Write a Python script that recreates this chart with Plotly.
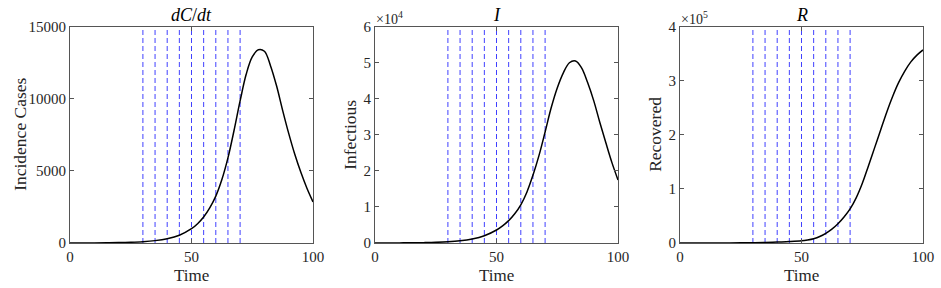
import plotly.graph_objects as go

# ---- data ----
time = [0, 5, 10, 15, 20, 25, 30, 35, 40, 45, 50, 52.5, 55, 57.5, 60, 62.5, 65, 67.5,
        70, 72.5, 75, 77.5, 80, 82.5, 85, 87.5, 90, 92.5, 95, 97.5, 100]
incidence = [2, 4, 8, 15, 27, 50, 90, 165, 300, 540, 990, 1340, 1800, 2430, 3250, 4400,
             5900, 7800, 9850, 11700, 12900, 13400, 13300, 12300, 10900, 9200, 7600,
             6150, 4900, 3800, 2850]
infectious = [8, 15, 30, 55, 100, 180, 330, 600, 1100, 2000, 3600, 4750, 6200, 8100,
              10600, 14100, 18800, 24300, 30800, 37500, 43000, 47200, 50000, 50500,
              48600, 44500, 39500, 33500, 27800, 22300, 17500]
recovered = [20, 40, 70, 120, 200, 340, 600, 1000, 1800, 2600, 4000, 5600, 8000, 12000,
             18000, 25500, 35500, 48000, 63000, 83500, 110000, 142000, 175000, 208000,
             241000, 271000, 297000, 318000, 335000, 347500, 357000]
change_times = [30, 35, 40, 45, 50, 55, 60, 65, 70]

titles = ["<i>dC</i>/<i>dt</i>", "<i>I</i>", "<i>R</i>"]
ylabels = ["Incidence Cases", "Infectious", "Recovered"]
xlabel = "Time"
xticks = [0, 50, 100]
yticks1 = [0, 5000, 10000, 15000]
yticks2 = [0, 10000, 20000, 30000, 40000, 50000, 60000]
yticks2_text = ["0", "1", "2", "3", "4", "5", "6"]
yticks3 = [0, 100000, 200000, 300000, 400000]
yticks3_text = ["0", "1", "2", "3", "4"]
exponents = [None, "×10<sup>4</sup>", "×10<sup>5</sup>"]

W, H = 941, 288
FONT = "Liberation Serif"
AX_COL = "#555555"
TXT_COL = "#262626"

# panel geometry in pixels
lefts = [70, 375, 680]
width = 243
top_px, bot_px = 26.7, 243

fig = go.Figure()
series = [incidence, infectious, recovered]
yranges = [[0, 15000], [0, 60000], [0, 400000]]
ytickv = [yticks1, yticks2, yticks3]
ytickt = [[str(v) for v in yticks1], yticks2_text, yticks3_text]

for i in range(3):
    ax = "" if i == 0 else str(i + 1)
    fig.add_trace(go.Scatter(
        x=time, y=series[i], mode="lines",
        line=dict(color="black", width=1.5, shape="spline", smoothing=1.0),
        xaxis="x" + ax, yaxis="y" + ax, showlegend=False, hoverinfo="skip"))
    for ct in change_times:
        fig.add_shape(type="line", x0=ct, x1=ct, y0=0, y1=1,
                      xref="x" + ax, yref=("y" + ax + " domain"),
                      line=dict(color="rgba(0,0,255,0.75)", width=1, dash="5px,3px"),
                      layer="below")
    xd = [lefts[i] / W, (lefts[i] + width) / W]
    yd = [(H - bot_px) / H, (H - top_px) / H]
    common = dict(showline=True, linecolor=AX_COL, linewidth=1, mirror="ticks",
                  ticks="inside", ticklen=4, tickcolor=AX_COL, showgrid=False,
                  zeroline=False, automargin=False,
                  tickfont=dict(family=FONT, size=15, color=TXT_COL))
    fig.update_layout(**{
        "xaxis" + ax: dict(domain=xd, range=[0, 100], tickvals=xticks,
                           anchor="y" + ax, **common),
        "yaxis" + ax: dict(domain=yd, range=yranges[i], tickvals=ytickv[i],
                           ticktext=ytickt[i], anchor="x" + ax, **common),
    })
    cx = (lefts[i] + width / 2) / W
    # title
    fig.add_annotation(text=titles[i], x=cx, y=(H - 15) / H, xref="paper", yref="paper",
                       showarrow=False, font=dict(family=FONT, size=18, color="black"),
                       xanchor="center", yanchor="middle")
    # x label
    fig.add_annotation(text=xlabel, x=cx, y=(H - 275) / H, xref="paper", yref="paper",
                       showarrow=False, font=dict(family=FONT, size=17, color=TXT_COL),
                       xanchor="center", yanchor="middle")
    # y label
    ylx = [20, 350, 655][i]
    fig.add_annotation(text=ylabels[i], x=ylx / W, y=(H - (top_px + bot_px) / 2) / H,
                       xref="paper", yref="paper", textangle=-90, showarrow=False,
                       font=dict(family=FONT, size=17.5, color=TXT_COL),
                       xanchor="center", yanchor="middle")
    if exponents[i]:
        fig.add_annotation(text=exponents[i], x=(lefts[i] - 1) / W, y=(H - 18) / H,
                           xref="paper", yref="paper", showarrow=False,
                           font=dict(family=FONT, size=14, color=TXT_COL),
                           xanchor="left", yanchor="middle")

fig.update_layout(width=W, height=H, margin=dict(l=0, r=0, t=0, b=0),
                  paper_bgcolor="white", plot_bgcolor="white")
fig.write_html("out.html")
